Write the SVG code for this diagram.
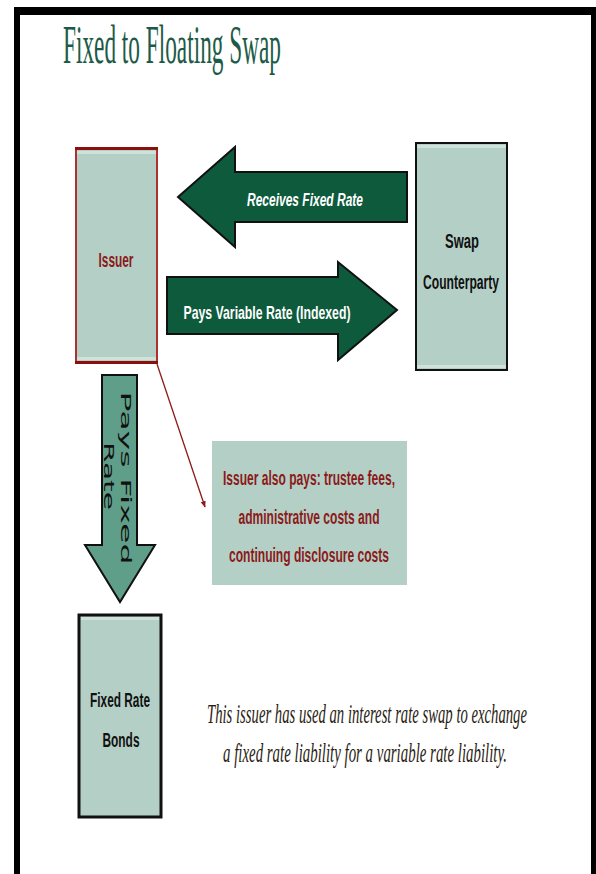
<svg xmlns="http://www.w3.org/2000/svg" width="596" height="874" viewBox="0 0 596 874">
<style>
.box{fill:#b4d0c6}
.sans{font-family:"Liberation Sans",Arial,sans-serif}
.serif{font-family:"Liberation Serif","Times New Roman",serif}
.lbl{font-size:20px;text-anchor:middle;font-weight:bold}
.red{fill:#8b1a1a}
.dk{fill:#111}
.wt{fill:#ffffff;font-weight:bold;font-size:19px;text-anchor:middle}
.arr{fill:#0e5a3c;stroke:#111;stroke-width:2;stroke-linejoin:miter}
</style>
<defs>
<marker id="ah" viewBox="0 0 10 10" refX="9" refY="5" markerWidth="5" markerHeight="5" orient="auto">
<path d="M0,1 L10,5 L0,9 z" fill="#8b1a1a"/>
</marker>
</defs>
<rect width="596" height="874" fill="#ffffff"/>
<g id="frame" fill="#000">
<rect x="14" y="7" width="582" height="8"/>
<rect x="14" y="7" width="6" height="867"/>
<rect x="591" y="7" width="5" height="867"/>
</g>
<text id="title" class="serif" x="63" y="63" font-size="54" fill="#1d5b48" textLength="218" lengthAdjust="spacingAndGlyphs">Fixed to Floating Swap</text>

<g id="connectors">
<g id="receives">
<path class="arr" d="M407,172 L235,172 L235,147 L178,197 L235,247 L235,222 L407,222 Z"/>
<text class="sans wt" x="305" y="206" font-style="italic" textLength="116" lengthAdjust="spacingAndGlyphs">Receives Fixed Rate</text>
</g>
<g id="pays-variable">
<path class="arr" d="M167,277 L338,277 L338,262 L397,310 L338,360 L338,334 L167,334 Z"/>
<text class="sans wt" x="267" y="319" textLength="167" lengthAdjust="spacingAndGlyphs">Pays Variable Rate (Indexed)</text>
</g>
<g id="pays-fixed">
<path d="M102,375 L137,375 L137,545 L155,545 L120,602 L85,545 L102,545 Z" fill="#5f9f8a" stroke="#111" stroke-width="2"/>
<g transform="translate(121,478) rotate(90)">
<text class="dk" x="0" y="0" font-family="'DejaVu Sans',Verdana,sans-serif" font-size="14" text-anchor="middle" textLength="173" lengthAdjust="spacingAndGlyphs">Pays Fixed</text>
<text class="dk" x="-2" y="17" font-family="'DejaVu Sans',Verdana,sans-serif" font-size="14" text-anchor="middle" textLength="68" lengthAdjust="spacingAndGlyphs">Rate</text>
</g>
</g>
<line x1="157" y1="364" x2="205" y2="507" stroke="#8b1a1a" stroke-width="1.3" marker-end="url(#ah)"/>
</g>

<g id="issuer">
<rect class="box" x="76" y="148" width="81" height="215" stroke="#b03030" stroke-width="2"/>
<rect x="77" y="151" width="79" height="3" fill="#cfe2da"/>
<rect x="77" y="357" width="79" height="3" fill="#cfe2da"/>
<line x1="75" y1="148.5" x2="158" y2="148.5" stroke="#8a0f0f" stroke-width="3"/>
<line x1="75" y1="362.5" x2="158" y2="362.5" stroke="#8a0f0f" stroke-width="3"/>
<text class="sans lbl red" x="116" y="267" textLength="35" lengthAdjust="spacingAndGlyphs">Issuer</text>
</g>

<g id="counterparty">
<rect class="box" x="416" y="143" width="91" height="227" stroke="#111" stroke-width="2"/>
<rect x="417" y="145" width="89" height="3" fill="#cfe2da"/>
<rect x="417" y="365" width="89" height="3" fill="#cfe2da"/>
<text class="sans lbl dk" x="462" y="248" textLength="34" lengthAdjust="spacingAndGlyphs">Swap</text>
<text class="sans lbl dk" x="461" y="289" textLength="76" lengthAdjust="spacingAndGlyphs">Counterparty</text>
</g>

<g id="note">
<rect class="box" x="212" y="441" width="195" height="144"/>
<text class="sans lbl red" x="309" y="485" textLength="172" lengthAdjust="spacingAndGlyphs">Issuer also pays: trustee fees,</text>
<text class="sans lbl red" x="309" y="524" textLength="141" lengthAdjust="spacingAndGlyphs">administrative costs and</text>
<text class="sans lbl red" x="309" y="562" textLength="160" lengthAdjust="spacingAndGlyphs">continuing disclosure costs</text>
</g>

<g id="bonds">
<rect class="box" x="79" y="615" width="82" height="202" stroke="#111" stroke-width="3"/>
<rect x="81" y="617" width="78" height="3" fill="#cfe2da"/>
<text class="sans lbl dk" x="120" y="707" textLength="60" lengthAdjust="spacingAndGlyphs">Fixed Rate</text>
<text class="sans lbl dk" x="121" y="747" textLength="37" lengthAdjust="spacingAndGlyphs">Bonds</text>
</g>

<g id="caption" class="serif" font-style="italic" font-size="27" fill="#2a1d14">
<text x="207" y="723" textLength="320" lengthAdjust="spacingAndGlyphs">This issuer has used an interest rate swap to exchange</text>
<text x="223" y="762" textLength="284" lengthAdjust="spacingAndGlyphs">a fixed rate liability for a variable rate liability.</text>
</g>
</svg>
